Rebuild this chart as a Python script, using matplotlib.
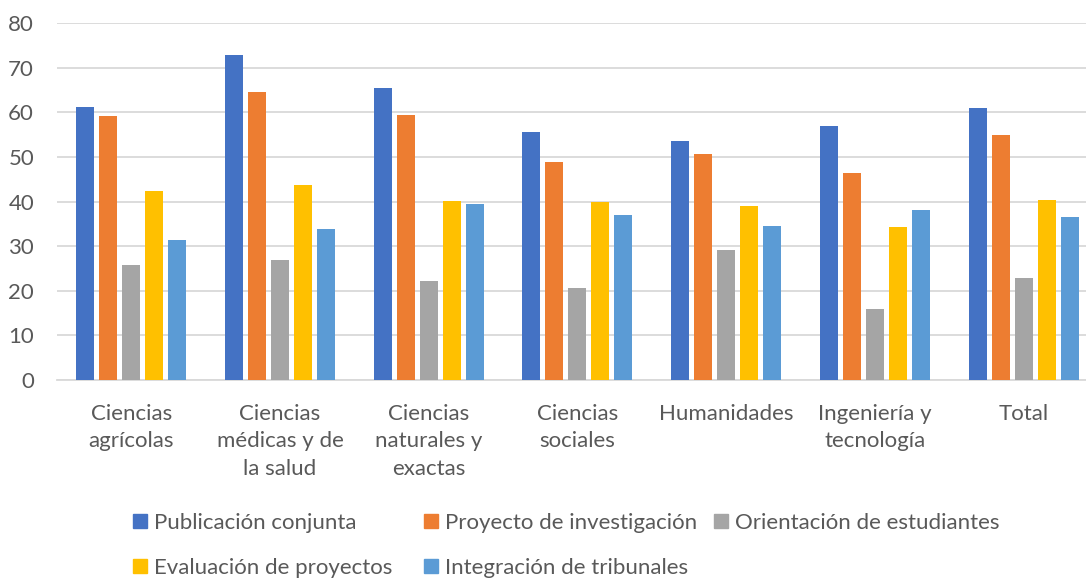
import matplotlib
matplotlib.use("Agg")
import matplotlib.pyplot as plt
import matplotlib.patches as mpatches
import numpy as np

# Datos
categorias = ["Ciencias\nagrícolas", "Ciencias\nmédicas y de\nla salud", "Ciencias\nnaturales y\nexactas",
              "Ciencias\nsociales", "Humanidades", "Ingeniería y\ntecnología", "Total"]
publicacion = [61.3, 72.8, 65.5, 55.7, 53.5, 57.0, 60.9]
proyecto = [59.3, 64.5, 59.4, 49.0, 50.6, 46.4, 55.0]
orientacion = [25.9, 27.0, 22.1, 20.6, 29.1, 16.0, 22.9]
evaluacion = [42.3, 43.7, 40.2, 40.0, 39.0, 34.4, 40.3]
tribunales = [31.4, 33.9, 39.5, 37.1, 34.6, 38.1, 36.6]

series = [
    ("Publicación conjunta", publicacion, "#4472C4"),
    ("Proyecto de investigación", proyecto, "#ED7D31"),
    ("Orientación de estudiantes", orientacion, "#A5A5A5"),
    ("Evaluación de proyectos", evaluacion, "#FFC000"),
    ("Integración de tribunales", tribunales, "#5B9BD5"),
]

plt.rcParams["font.family"] = ["Lato", "DejaVu Sans"]
TEXT = "#595959"
GRID = "#D9D9D9"
FS = 16

W, H = 1086, 578
fig = plt.figure(figsize=(W / 100, H / 100), dpi=100)
ax = fig.add_axes([57 / W, 1 - 380 / H, 1029 / W, (380 - 23.3) / H])

x = np.arange(len(categorias))
pitch = 0.1547
width = 0.121
for i, (nombre, vals, color) in enumerate(series):
    ax.bar(x + (i - 2) * pitch, vals, width, color=color, label=nombre, zorder=3)

ax.set_xlim(-0.5, -0.5 + 1029 / 148.7)
ax.set_ylim(0, 80)
ax.set_yticks(range(0, 81, 10))
ax.yaxis.grid(True, color=GRID, lw=1.3, zorder=0)
for s in ["top", "right", "left"]:
    ax.spines[s].set_visible(False)
ax.spines["bottom"].set_color(GRID)
ax.spines["bottom"].set_linewidth(1.3)
ax.tick_params(axis="both", length=0, colors=TEXT, labelsize=FS)
ax.tick_params(axis="y", pad=16.5)
ax.tick_params(axis="x", pad=17)
ax.set_xticks(x)
ax.set_xticklabels(categorias, linespacing=1.48)

# Leyenda (posiciones de cada entrada como en el original)
pos_leyenda = [(133, 523), (424, 523), (714, 523), (133, 568), (424, 568)]
for (nombre, vals, color), (px, py) in zip(series, pos_leyenda):
    fig.legend(handles=[mpatches.Patch(color=color, label=nombre)], loc="center left",
               bbox_to_anchor=(px / W, 1 - py / H), frameon=False, fontsize=FS,
               labelcolor=TEXT, handlelength=0.63, handleheight=0.63,
               handletextpad=0.3, borderpad=0, borderaxespad=0)

fig.savefig("out.png", dpi=100)
